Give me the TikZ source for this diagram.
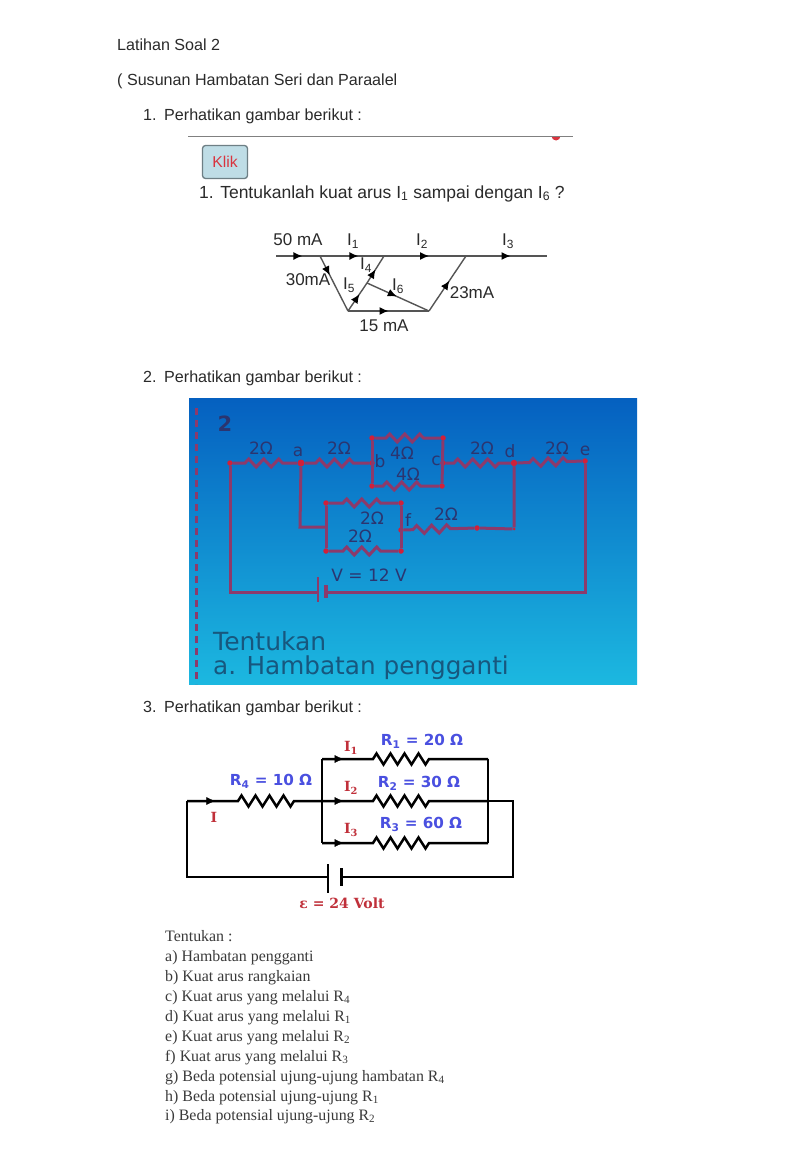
\documentclass[tikz,border=0pt]{standalone}
\usepackage{fontspec}
\setmainfont{Liberation Sans}
\newfontfamily\lserif{Liberation Serif}
\newfontfamily\dserif{DejaVu Serif}
\newfontfamily\dejavu{DejaVu Sans}
\usetikzlibrary{arrows.meta,decorations.pathmorphing,decorations.markings}
\definecolor{ink}{HTML}{2A2A2A}
\definecolor{wireA}{HTML}{555555}
\definecolor{klikfill}{HTML}{BFDDE6}
\definecolor{klikline}{HTML}{6E7F85}
\definecolor{klikred}{HTML}{D9343F}
\definecolor{skyT}{HTML}{0560C0}
\definecolor{skyM}{HTML}{0B8AD2}
\definecolor{skyB}{HTML}{1CB8E0}
\definecolor{wireB}{HTML}{8C3A6B}
\definecolor{dotB}{HTML}{D0203A}
\definecolor{labB}{HTML}{2B3570}
\definecolor{tealB}{HTML}{17577E}
\definecolor{labC}{HTML}{4A50E0}
\definecolor{redC}{HTML}{C0303A}
\definecolor{txtC}{HTML}{3A3A3A}
\tikzset{
  x=1pt,y=-1pt,
  head/.style={anchor=base west,text=ink,inner sep=0pt,font=\fontsize{16.1}{18}\selectfont},
  lab/.style={anchor=center,text=ink,inner sep=0pt,font=\fontsize{17}{19}\selectfont},
  wa/.style={draw=wireA,line width=1.4pt},
  arr/.style={postaction={decorate,decoration={markings,mark=at position #1 with {\arrow[black]{Latex[length=9pt,width=8pt]}}}}},
  wb/.style={draw=wireB,line width=3pt},
  dot/.style={circle,fill=dotB,inner sep=0pt,minimum size=5.5pt},
  lb/.style={anchor=center,text=labB,inner sep=0pt,font=\dejavu\fontsize{17}{19}\selectfont},
  resb/.style 2 args={decorate,decoration={zigzag,amplitude=4pt,segment length=15pt,pre length=#1,post length=#2}},
  wc/.style={draw=black,line width=2.5pt},
  resc/.style 2 args={decorate,decoration={zigzag,amplitude=5.5pt,segment length=14pt,pre length=#1,post length=#2}},
  lc/.style={anchor=center,text=labC,inner sep=0pt,font=\dejavu\bfseries\fontsize{15.2}{17}\selectfont},
  rc/.style={anchor=center,text=redC,inner sep=0pt,font=\dserif\bfseries\fontsize{14}{16}\selectfont},
  tc/.style={anchor=base west,text=txtC,inner sep=0pt,font=\lserif\fontsize{15.9}{18}\selectfont},
}
\begin{document}
\begin{tikzpicture}
\useasboundingbox (0,0) rectangle (810,1172);
\fill[white] (0,0) rectangle (810,1172);
% headings
\node[head] (h1) at (117,51) {Latihan Soal 2};
\node[head] (h2) at (117,85) {( Susunan Hambatan Seri dan Paraalel};
\node[head] (n1) at (143,120) {1.};
\node[head] (p1) at (164,120) {Perhatikan gambar berikut :};
\node[head] (n2) at (143,382) {2.};
\node[head] (p2) at (164,382) {Perhatikan gambar berikut :};
\node[head] (n3) at (143,712) {3.};
\node[head] (p3) at (164,712) {Perhatikan gambar berikut :};
% problem 1 header
\coordinate (ruleL) at (188,136);
\coordinate (ruleR) at (573,136);
\begin{scope}
\clip (540,136) rectangle (573,150);
\fill[klikred] (556,136) circle (4.5);
\end{scope}
\draw[draw=gray,line width=0.9pt] (ruleL) -- (ruleR);
\node[draw=klikline,fill=klikfill,rounded corners=3pt,line width=1.3pt,minimum width=45pt,minimum height=33pt,inner sep=0pt,text=klikred,font=\fontsize{15.7}{18}\selectfont] (klik) at (225,162) {Klik};
\node[anchor=base west,text=ink,inner sep=0pt,font=\fontsize{17.5}{20}\selectfont] (q1) at (199,198) {1. Tentukanlah kuat arus I\textsubscript{1} sampai dengan I\textsubscript{6} ?};
% circuit 1
\coordinate (s) at (276,256);
\coordinate (j1) at (320,256);
\coordinate (j2) at (384,256);
\coordinate (j3) at (466,256);
\coordinate (t) at (547,256);
\coordinate (lowL) at (348,311);
\coordinate (lowR) at (429,311);
\coordinate (mid) at (367,283);
\draw[wa,arr=.6] (s) -- (j1);
\draw[wa,arr=.6] (j1) -- (j2);
\draw[wa,arr=.55] (j2) -- (j3);
\draw[wa,arr=.55] (j3) -- (t);
\draw[wa,arr=.35] (j1) -- (lowL);
\draw[wa,arr=.6] (lowL) -- (mid);
\draw[wa,arr=.5] (mid) -- (j2);
\draw[wa,arr=.48] (mid) -- (lowR);
\draw[wa,arr=.5] (lowL) -- (lowR);
\draw[wa,arr=.55] (lowR) -- (j3);
\node[lab] (l50) at (298,240) {50 mA};
\node[lab] (li1) at (353,241) {I\textsubscript{1}};
\node[lab] (li2) at (422,241) {I\textsubscript{2}};
\node[lab] (li3) at (508,241) {I\textsubscript{3}};
\node[lab] (l30) at (308,280) {30mA};
\node[lab] (li4) at (366,265) {I\textsubscript{4}};
\node[lab] (li5) at (349,285) {I\textsubscript{5}};
\node[lab] (li6) at (398,286) {I\textsubscript{6}};
\node[lab] (l23) at (472,293) {23mA};
\node[lab] (l15) at (384,326) {15 mA};
% problem 2 panel
\shade[top color=skyT,middle color=skyM,bottom color=skyB] (189,398) rectangle (637,684);
\draw[draw=wireB,line width=3pt,dash pattern=on 7pt off 5pt] (196,408) -- (196,684);
\node[anchor=center,text=labB,inner sep=0pt,font=\dejavu\bfseries\fontsize{21}{23}\selectfont] (two) at (225,424) {2};
\coordinate (bl) at (230,592);
\coordinate (br) at (585,592);
\coordinate (bat1) at (318,592);
\coordinate (bat2) at (326,592);
\coordinate (a2) at (300,527);
\coordinate (a3) at (326,527);
\node[dot] (A) at (230,463) {};
\node[dot,minimum size=7pt] (Ba) at (301,463) {};
\node[dot] (Bb) at (372,463) {};
\node[dot] (Bc) at (443,463) {};
\node[dot,minimum size=6.5pt] (Bd) at (514,463) {};
\node[dot] (Be) at (585,461) {};
\node[dot] (bt1) at (372,438) {};
\node[dot] (bt2) at (443,438) {};
\node[dot] (bb1) at (372,486) {};
\node[dot] (bb2) at (442,486) {};
\node[dot] (ct1) at (326,503) {};
\node[dot] (ct2) at (401,503) {};
\node[dot] (cb1) at (326,551) {};
\node[dot] (cb2) at (401,551) {};
\node[dot] (Bf) at (401,530) {};
\node[dot] (Bg) at (477,528) {};
\node[dot,minimum size=3pt] (Bh) at (514,529) {};
\draw[wb,resb={12pt}{12pt}] (A) -- (Ba);
\draw[wb,resb={11pt}{12pt}] (Ba) -- (Bb);
\draw[wb] (bt1) -- (bb1);
\draw[wb] (bt2) -- (bb2);
\draw[wb,resb={11pt}{11pt}] (bt1) -- (bt2);
\draw[wb,resb={8pt}{13pt}] (bb1) -- (bb2);
\draw[wb,resb={8pt}{10pt}] (Bc) -- (Bd);
\draw[wb,resb={12pt}{10pt}] (Bd) -- (Be);
\draw[wb] (Ba) -- (a2) -- (a3);
\draw[wb] (ct1) -- (cb1);
\draw[wb] (ct2) -- (cb2);
\draw[wb,resb={14pt}{17pt}] (ct1) -- (ct2);
\draw[wb,resb={14pt}{17pt}] (cb1) -- (cb2);
\draw[wb,resb={9pt}{17pt}] (Bf) -- (Bg);
\draw[wb] (Bg) -- (Bh) -- (Bd);
\draw[wb] (A) -- (bl) -- (bat1);
\draw[wb] (bat2) -- (br) -- (Be);
\draw[draw=wireB,line width=2.5pt] (318,577) -- (318,602);
\draw[draw=wireB,line width=4pt] (326,585) -- (326,598);
\node[lb] (o1) at (261,448) {2Ω};
\node[lb] (o2) at (339,448) {2Ω};
\node[lb] (o3) at (402,453) {4Ω};
\node[lb] (o4) at (408,474) {4Ω};
\node[lb] (o5) at (482,448) {2Ω};
\node[lb] (o6) at (557,448) {2Ω};
\node[lb] (o7) at (372,518) {2Ω};
\node[lb] (o8) at (360,536) {2Ω};
\node[lb] (o9) at (446,514) {2Ω};
\node[lb] (ta) at (298,452) {a};
\node[lb] (tb) at (380,461) {b};
\node[lb] (tc) at (436,461) {c};
\node[lb] (td) at (510,451) {d};
\node[lb] (te) at (585,451) {e};
\node[lb] (tf) at (408,520) {f};
\node[lb] (tv) at (369,575) {V = 12 V};
\node[anchor=base west,text=tealB,inner sep=0pt,font=\dejavu\fontsize{25}{28}\selectfont] (tk) at (213,650) {Tentukan};
\node[anchor=base west,text=tealB,inner sep=0pt,font=\dejavu\fontsize{24.7}{28}\selectfont] (hp) at (213,674) {a. Hambatan pengganti};
% circuit 3
\coordinate (c1) at (187,801);
\coordinate (c2) at (187,877);
\coordinate (c3) at (328,877);
\coordinate (c4) at (341,877);
\coordinate (c5) at (513,877);
\coordinate (c6) at (513,801);
\coordinate (pL) at (322,801);
\coordinate (pR) at (488,801);
\coordinate (t1) at (322,759);
\coordinate (t2) at (488,759);
\coordinate (b1) at (322,843);
\coordinate (b2) at (488,843);
\draw[wc] (c3) -- (c2) -- (c1);
\draw[wc,resc={51pt}{27pt}] (c1) -- (pL);
\draw[wc,resc={51pt}{58pt}] (t1) -- (t2);
\draw[wc,resc={51pt}{58pt}] (pL) -- (pR);
\draw[wc,resc={51pt}{58pt}] (b1) -- (b2);
\path[arr=.21] (c1) -- (pL);
\path[arr=.13] (t1) -- (t2);
\path[arr=.13] (pL) -- (pR);
\path[arr=.13] (b1) -- (b2);
\draw[wc] (t1) -- (b1);
\draw[wc] (t2) -- (b2);
\draw[wc] (pR) -- (c6) -- (c5) -- (c4);
\draw[draw=black,line width=2.6pt] (328,864) -- (328,893);
\draw[draw=black,line width=3pt] (341,868) -- (341,886);
\node[lc] (r1) at (422,741) {R\textsubscript{1} = 20 Ω};
\node[lc] (r2) at (419,783) {R\textsubscript{2} = 30 Ω};
\node[lc] (r3) at (421,824) {R\textsubscript{3} = 60 Ω};
\node[lc] (r4) at (271,781) {R\textsubscript{4} = 10 Ω};
\node[rc] (i1) at (351,748) {I\textsubscript{1}};
\node[rc] (i2) at (351,788) {I\textsubscript{2}};
\node[rc] (i3) at (351,830) {I\textsubscript{3}};
\node[rc] (i0) at (214,817) {I};
\node[rc] (eps) at (342,903) {ε = 24 Volt};
% questions
\node[tc] (q0) at (165,941) {Tentukan :};
\node[tc] (qa) at (165,961) {a) Hambatan pengganti};
\node[tc] (qb) at (165,981) {b) Kuat arus rangkaian};
\node[tc] (qc) at (165,1001) {c) Kuat arus yang melalui R\textsubscript{4}};
\node[tc] (qd) at (165,1021) {d) Kuat arus yang melalui R\textsubscript{1}};
\node[tc] (qe) at (165,1041) {e) Kuat arus yang melalui R\textsubscript{2}};
\node[tc] (qf) at (165,1061) {f) Kuat arus yang melalui R\textsubscript{3}};
\node[tc] (qg) at (165,1081) {g) Beda potensial ujung-ujung hambatan R\textsubscript{4}};
\node[tc] (qh) at (165,1101) {h) Beda potensial ujung-ujung R\textsubscript{1}};
\node[tc] (qi) at (165,1120) {i) Beda potensial ujung-ujung R\textsubscript{2}};
\end{tikzpicture}
\end{document}
